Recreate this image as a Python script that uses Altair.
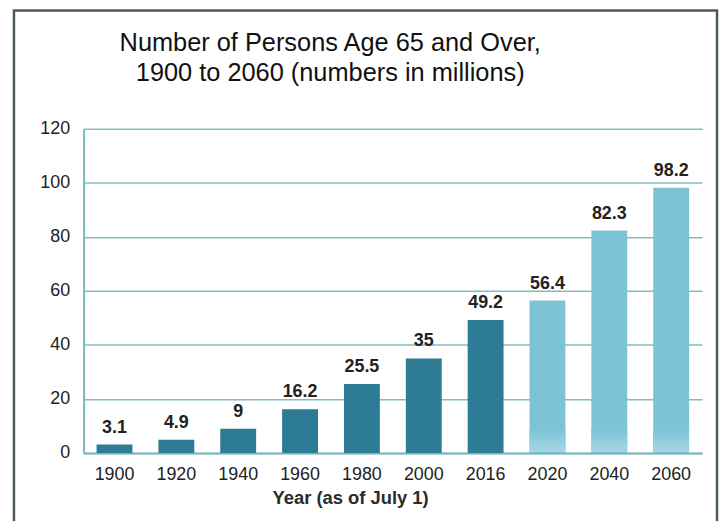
import altair as alt
import pandas as pd

years = ["1900", "1920", "1940", "1960", "1980", "2000", "2016", "2020", "2040", "2060"]
values = [3.1, 4.9, 9, 16.2, 25.5, 35, 49.2, 56.4, 82.3, 98.2]
kind = ["Actual"] * 7 + ["Projected"] * 3

df = pd.DataFrame({"year": years, "value": values, "kind": kind})

W, H = 622, 326
FONT = "Liberation Sans"

xenc = alt.X(
    "year:N",
    sort=years,
    scale=alt.Scale(paddingInner=0.42, paddingOuter=0.21),
    axis=alt.Axis(
        title="Year (as of July 1)",
        titleFont=FONT, titleFontSize=18.5, titleFontWeight="bold", titleColor="#2b2b2b",
        titleX=268, titleY=51, titleBaseline="alphabetic", titleAlign="center",
        labelFont=FONT, labelFontSize=18, labelColor="#222222", labelPadding=13,
        labelAngle=0, ticks=False, domainColor="#7fb4bf", domainWidth=2, grid=False,
    ),
)

base = alt.Chart(df)

bars = base.mark_bar().encode(
    x=xenc,
    y=alt.Y(
        "value:Q",
        scale=alt.Scale(domain=[0, 120], nice=False),
        axis=alt.Axis(
            title=None, values=[0, 20, 40, 60, 80, 100, 120],
            labelFont=FONT, labelFontSize=18, labelColor="#222222", labelPadding=14,
            ticks=False, domainColor="#7fb4bf", domainWidth=2,
            grid=True, gridColor="#86b9c3", gridWidth=1.5, gridOpacity=1,
        ),
    ),
    color=alt.Color(
        "kind:N",
        scale=alt.Scale(domain=["Actual", "Projected"], range=["#2e7b95", "#7dc3d6"]),
        legend=None,
    ),
)

fade = base.transform_filter(alt.datum.kind == "Projected").mark_bar(
    color=alt.Gradient(
        gradient="linear", x1=0, y1=0, x2=0, y2=1,
        stops=[alt.GradientStop(color="#7dc3d6", offset=0),
               alt.GradientStop(color="#a6d7e3", offset=1)],
    )
).encode(
    x=alt.X("year:N", sort=years),
    y=alt.value(H - 24),
    y2=alt.value(H - 1),
)

labels = base.mark_text(
    font=FONT, fontSize=18, fontWeight="bold", color="#222222", baseline="alphabetic", dy=-12
).encode(
    x=alt.X("year:N", sort=years),
    y="value:Q",
    text=alt.Text("value:Q"),
)

frame = base.transform_filter(alt.datum.year == "1900").mark_rect(
    fill=None, stroke="#4b5a5b", strokeWidth=2.5
).encode(
    x=alt.value(-70), x2=alt.value(637), y=alt.value(-119), y2=alt.value(470),
)

chart = alt.layer(frame, bars, fade, labels).properties(
    width=W,
    height=H,
    padding={"left": 76, "top": 120, "right": 17, "bottom": 67},
    autosize=alt.AutoSizeParams(type="none"),
    title=alt.TitleParams(
        text=["Number of Persons Age 65 and Over,", "1900 to 2060 (numbers in millions)"],
        font=FONT, fontSize=25.5, fontWeight="normal", color="#111111",
        anchor="middle", dx=-63, offset=-78, lineHeight=30,
    ),
    background="#ffffff",
).configure_view(stroke=None)

chart.save("out.html", embed_options={"renderer": "svg", "actions": False})
